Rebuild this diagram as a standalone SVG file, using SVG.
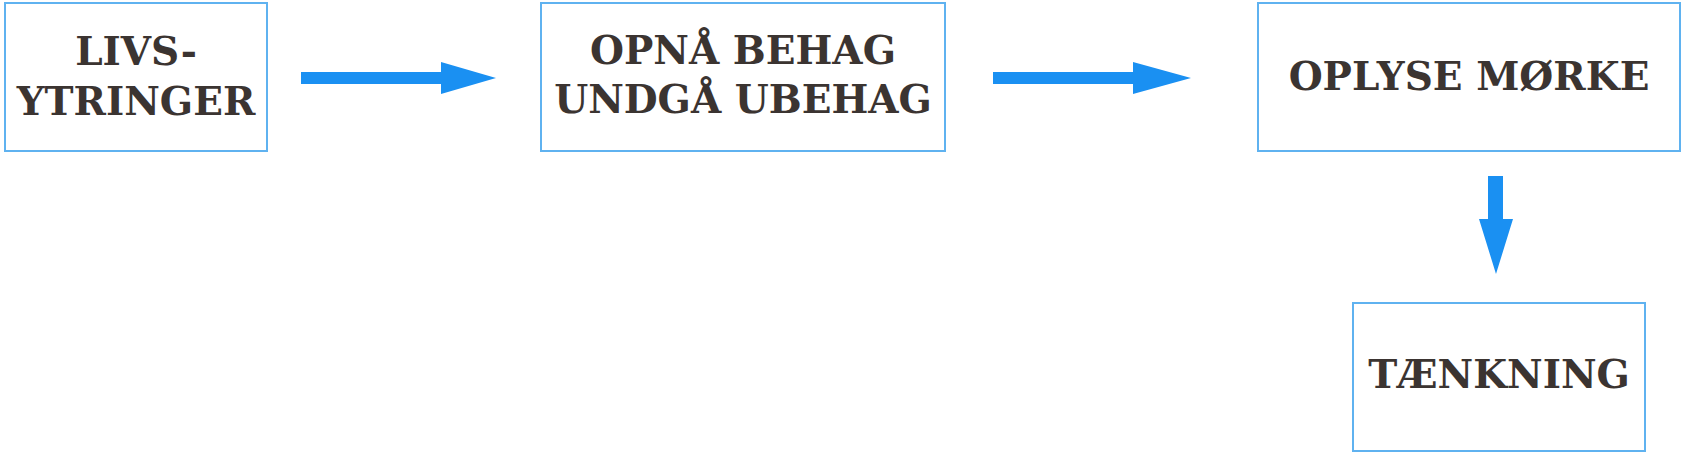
<svg xmlns="http://www.w3.org/2000/svg" width="1685" height="459" viewBox="0 0 1685 459">
<style>
.box{fill:#fff;stroke:#5fb2f0;stroke-width:2}
.lbl{font-family:"DejaVu Serif","Liberation Serif",serif;font-weight:bold;font-size:39px;fill:#3b3431;text-anchor:middle}
.arr{fill:#1a90f2}
</style>
<rect width="1685" height="459" fill="#fff"/>
<g id="connectors">
<path class="arr" d="M301,72 H441 V62 L496,78 L441,94 V84 H301 Z"/>
<path class="arr" d="M993,72 H1133 V62 L1191,78 L1133,94 V84 H993 Z"/>
<path class="arr" d="M1488,176 V219 H1479 L1496,274 L1513,219 H1503 V176 Z"/>
</g>
<g id="node-livsytringer">
<rect class="box" x="5" y="3" width="262" height="148"/>
<text class="lbl" x="136" y="65">LIVS-</text>
<text class="lbl" x="136" y="115">YTRINGER</text>
</g>
<g id="node-opnaa">
<rect class="box" x="541" y="3" width="404" height="148"/>
<text class="lbl" x="743" y="64">OPNÅ BEHAG</text>
<text class="lbl" x="743" y="113">UNDGÅ UBEHAG</text>
</g>
<g id="node-oplyse">
<rect class="box" x="1258" y="3" width="422" height="148"/>
<text class="lbl" x="1469" y="90">OPLYSE MØRKE</text>
</g>
<g id="node-taenkning">
<rect class="box" x="1353" y="303" width="292" height="148"/>
<text class="lbl" x="1499" y="388">TÆNKNING</text>
</g>
</svg>
